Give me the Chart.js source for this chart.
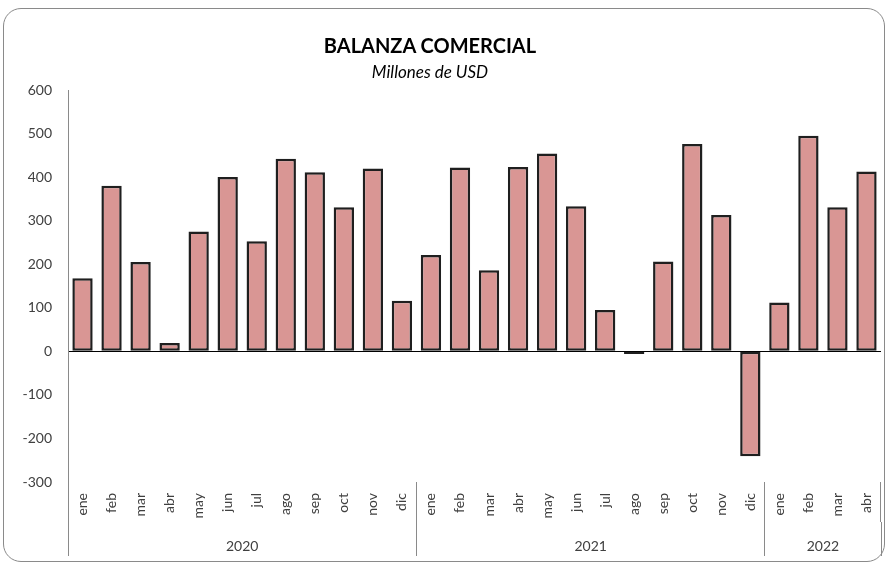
<!DOCTYPE html>
<html>
<head>
<meta charset="utf-8">
<title>Balanza comercial</title>
<script src="https://cdn.jsdelivr.net/npm/chart.js@4.4.1/dist/chart.umd.min.js"></script>
<style>
  html, body { margin: 0; padding: 0; background: #fff; }
  #wrap { position: relative; width: 890px; height: 564px; }
  #frame {
    position: absolute; left: 3px; top: 8px; width: 882px; height: 554px;
    box-sizing: border-box; border: 1.5px solid #8a8a8a; border-radius: 18px;
  }
  #title {
    position: absolute; left: 0; width: 860px; top: 33px; text-align: center;
    font: bold 20px Lato, "Liberation Sans", sans-serif; color: #000;
  }
  #sub {
    position: absolute; left: 0; width: 860px; top: 61px; text-align: center;
    font: italic 17px Lato, "Liberation Sans", sans-serif; color: #000;
  }
  canvas { position: absolute; left: 0; top: 0; }
</style>
</head>
<body>
<div id="wrap">
  <div id="frame"></div>
  <canvas id="balanza" width="890" height="564"></canvas>
  <div id="title">BALANZA COMERCIAL</div>
  <div id="sub">Millones de USD</div>
</div>
<script>
// datos
const years = ['2020', '2021', '2022'];
const months = [
  ['ene', 'feb', 'mar', 'abr', 'may', 'jun', 'jul', 'ago', 'sep', 'oct', 'nov', 'dic'],
  ['ene', 'feb', 'mar', 'abr', 'may', 'jun', 'jul', 'ago', 'sep', 'oct', 'nov', 'dic'],
  ['ene', 'feb', 'mar', 'abr']
];
const balanza = [
  168, 380, 205, 19, 275, 400, 253, 442, 411, 331, 420, 116,
  221, 422, 186, 423, 454, 333, 95, -6, 206, 476, 313, -241,
  112, 495, 331, 413
];
const yTicks = [-300, -200, -100, 0, 100, 200, 300, 400, 500, 600];

const labels = months.flat();

// limites de cada año (en indices de categoria) y su centro
let bounds = [-0.5];
let centers = [];
let start = 0;
months.forEach(m => {
  centers.push(start + (m.length - 1) / 2);
  start += m.length;
  bounds.push(start - 0.5);
});
const boundIdx = bounds.map(b => b + 0.5);

const font = { family: 'Lato, "Liberation Sans", sans-serif', size: 14 };
const sepColor = '#8a8a8a';

const ctx = document.getElementById('balanza').getContext('2d');
new Chart(ctx, {
  type: 'bar',
  data: {
    labels: labels,
    datasets: [{
      data: balanza,
      backgroundColor: '#d99694',
      borderColor: '#1f1f1f',
      borderWidth: 2.5,
      borderSkipped: false,
      barPercentage: 0.7,
      categoryPercentage: 1.0
    }]
  },
  options: {
    responsive: false,
    animation: false,
    layout: { padding: { left: 0, right: 9, top: 90, bottom: 8 } },
    plugins: { legend: { display: false }, tooltip: { enabled: false } },
    scales: {
      y: {
        min: -300,
        max: 600,
        afterBuildTicks: s => { s.ticks = yTicks.map(v => ({ value: v })); },
        afterFit: s => { s.width = 68; },
        border: { display: true, color: sepColor, width: 1 },
        grid: {
          drawTicks: false,
          color: c => (c.tick && c.tick.value === 0) ? '#000' : 'transparent',
          lineWidth: 1
        },
        ticks: { padding: 16, color: '#404040', font: font }
      },
      x: {
        afterFit: s => { s.height = 40; },
        border: { display: false },
        grid: {
          offset: true,
          drawOnChartArea: false,
          drawTicks: true,
          tickLength: 40,
          color: c => (c.type === 'scale' || boundIdx.includes(c.index)) ? sepColor : 'transparent'
        },
        ticks: {
          autoSkip: false, minRotation: 90, maxRotation: 90, padding: -29,
          color: '#404040', font: font
        }
      },
      x2: {
        type: 'linear',
        position: 'bottom',
        offset: false,
        min: -0.5,
        max: labels.length - 0.5,
        afterBuildTicks: s => {
          s.ticks = bounds.concat(centers).sort((a, b) => a - b).map(v => ({ value: v }));
        },
        afterFit: s => { s.height = 34; },
        border: { display: false },
        grid: {
          offset: false,
          drawOnChartArea: false,
          tickLength: 34,
          color: c => (c.tick && bounds.includes(c.tick.value)) ? sepColor : 'transparent'
        },
        ticks: {
          autoSkip: false, maxRotation: 0, padding: -18,
          color: '#404040', font: font,
          callback: v => {
            const i = centers.indexOf(v);
            return i >= 0 ? years[i] : '';
          }
        }
      }
    }
  }
});
</script>
</body>
</html>
